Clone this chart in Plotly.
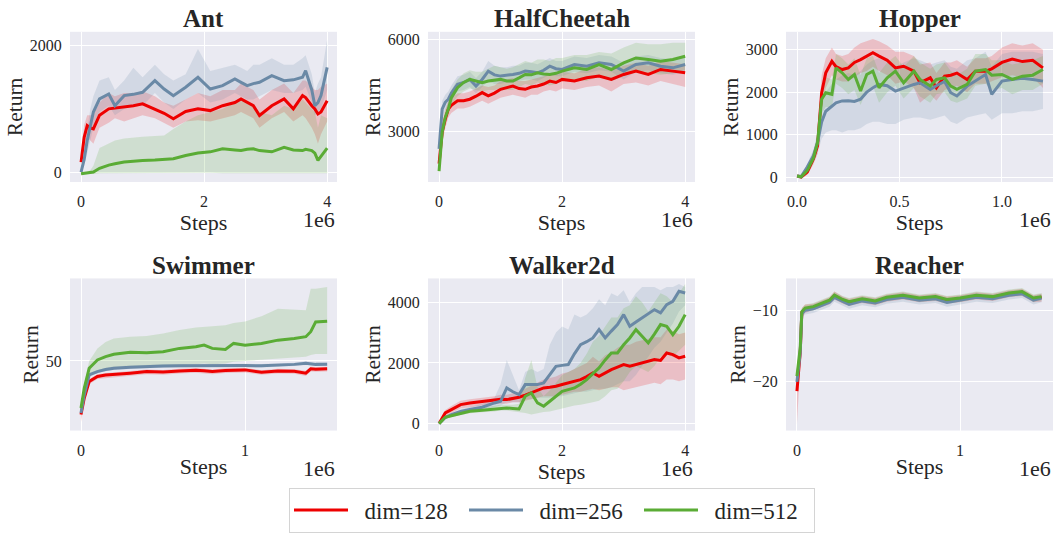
import plotly.graph_objects as go

# ---------------- data (x in units of 1e6 steps) ----------------
SERIES = ["dim=128", "dim=256", "dim=512"]
COLORS = ["#ee0000", "#6a89a6", "#5aac35"]
FILLS = ["rgba(238,0,0,0.18)", "rgba(106,137,166,0.18)", "rgba(90,172,53,0.18)"]

# Ant
ant_x = [0, 0.05, 0.1, 0.15, 0.2, 0.3, 0.45, 0.55, 0.7, 0.85, 1.0, 1.2, 1.35, 1.5, 1.7, 1.9, 2.1, 2.3, 2.5, 2.6, 2.7,
         2.8, 2.9, 3.1, 3.3, 3.45, 3.6, 3.65, 3.75, 3.8, 3.85, 3.9, 4.0]
ant_128 = [158, 550, 737, 700, 684, 900, 1000, 1010, 1030, 1050, 1080, 1000, 930, 842, 960, 1000, 973, 1050, 1100, 1158,
           1100, 1050, 895, 1050, 1158, 1000, 1210, 1180, 1050, 1000, 920, 950, 1130]
ant_256 = [0, 200, 500, 750, 950, 1158, 1236, 1050, 1210, 1230, 1263, 1447, 1315, 1210, 1342, 1500, 1315, 1368, 1473,
           1420, 1368, 1400, 1421, 1526, 1447, 1460, 1500, 1605, 1300, 1050, 1100, 1210, 1658]
ant_512 = [-26, -20, -15, -10, 0, 60, 110, 130, 158, 170, 184, 190, 195, 210, 263, 300, 320, 368, 350, 342, 360, 368,
           340, 320, 390, 350, 340, 360, 340, 300, 184, 250, 379]
ant_128_lo = [100, 300, 550, 500, 450, 700, 780, 850, 800, 850, 900, 850, 780, 700, 800, 820, 800, 850, 900, 950, 900,
              850, 700, 850, 950, 800, 900, 850, 700, 600, 450, 600, 800]
ant_128_hi = [220, 750, 900, 900, 900, 1100, 1250, 1200, 1250, 1250, 1280, 1200, 1100, 1050, 1150, 1250, 1200, 1300,
              1300, 1400, 1350, 1300, 1150, 1300, 1400, 1250, 1450, 1450, 1350, 1300, 1300, 1350, 1400]
ant_256_lo = [0, 100, 300, 500, 700, 950, 1050, 900, 1000, 1050, 1050, 1250, 1100, 1000, 1150, 1250, 1100, 1150, 1250,
              1200, 1150, 1150, 1200, 1300, 1250, 1250, 1300, 1350, 1100, 900, 950, 1000, 1300]
ant_256_hi = [30, 350, 700, 1000, 1200, 1450, 1500, 1300, 1450, 1650, 1500, 1700, 1550, 1450, 1550, 1950, 1600, 1650,
              1700, 1650, 1600, 1700, 1700, 1800, 1700, 1700, 1800, 1850, 1550, 1250, 1400, 1500, 2100]
ant_512_lo = [-30, -30, -30, -30, -30, -20, -10, -10, -10, -10, -10, -10, -10, -10, -10, -10, -10, -20, -20, -20, -30,
              -30, -30, -20, -20, -20, -20, -20, -20, -20, -20, -20, -20]
ant_512_hi = [-20, -10, 0, 30, 100, 380, 460, 500, 530, 550, 560, 570, 580, 680, 800, 900, 950, 1000, 1100, 1150, 1100,
              1050, 950, 900, 1050, 1000, 1150, 1100, 1000, 950, 700, 900, 850]

# HalfCheetah
hc_x = [0, 0.05, 0.1, 0.15, 0.2, 0.3, 0.4, 0.5, 0.6, 0.7, 0.8, 0.9, 1.0, 1.1, 1.2, 1.3, 1.4, 1.5, 1.6, 1.7, 1.8, 1.9,
        2.0, 2.2, 2.4, 2.6, 2.8, 3.0, 3.2, 3.4, 3.6, 3.8, 4.0]
hc_128 = [1938, 2967, 3400, 3726, 3850, 4000, 4000, 4051, 4150, 4268, 4160, 4250, 4376, 4420, 4484, 4400, 4376, 4450,
          4484, 4550, 4647, 4600, 4701, 4647, 4755, 4809, 4701, 4863, 4972, 4863, 5026, 4972, 4918]
hc_256 = [2426, 3726, 3950, 4051, 4250, 4538, 4600, 4701, 4484, 4700, 4972, 4850, 4809, 4830, 4863, 4900, 4972, 4950,
          4918, 5000, 5134, 5050, 5026, 5188, 5134, 5243, 5188, 4972, 5188, 5243, 5134, 5080, 5188]
hc_512 = [1689, 2967, 3450, 3726, 4100, 4430, 4600, 4701, 4650, 4592, 4650, 4680, 4701, 4650, 4647, 4750, 4863, 4850,
          4918, 4880, 4863, 4900, 4972, 5080, 5026, 5188, 5026, 5243, 5405, 5351, 5297, 5351, 5459]
hc_128_lo = [1700, 2600, 3100, 3450, 3600, 3750, 3750, 3800, 3900, 4000, 3900, 4000, 4100, 4150, 4200, 4150, 4100, 4200,
             4200, 4300, 4350, 4300, 4400, 4350, 4450, 4500, 4300, 4550, 4600, 4500, 4650, 4550, 4450]
hc_128_hi = [2200, 3300, 3700, 4000, 4100, 4250, 4250, 4300, 4400, 4500, 4450, 4500, 4650, 4700, 4750, 4650, 4650, 4700,
             4750, 4800, 4900, 4900, 4950, 4900, 5050, 5100, 5000, 5150, 5250, 5150, 5300, 5250, 5200]
hc_256_lo = [2200, 3400, 3700, 3850, 4000, 4300, 4350, 4450, 4250, 4450, 4650, 4550, 4550, 4600, 4600, 4650, 4700, 4700,
             4650, 4750, 4850, 4800, 4800, 4950, 4900, 5000, 4950, 4700, 4950, 5000, 4900, 4850, 4950]
hc_256_hi = [2650, 4000, 4200, 4300, 4500, 4800, 4850, 4950, 4750, 4950, 5300, 5150, 5100, 5100, 5150, 5150, 5250, 5250,
             5200, 5300, 5400, 5300, 5300, 5450, 5400, 5500, 5450, 5250, 5450, 5500, 5400, 5350, 5450]
hc_512_lo = [1500, 2700, 3200, 3500, 3850, 4150, 4300, 4400, 4350, 4300, 4350, 4350, 4400, 4350, 4350, 4450, 4550, 4500,
             4600, 4550, 4500, 4550, 4650, 4700, 4650, 4800, 4650, 4800, 4950, 4900, 4850, 4900, 5000]
hc_512_hi = [1900, 3250, 3700, 3950, 4350, 4700, 4900, 5000, 4950, 4950, 5050, 5150, 5100, 5050, 5100, 5200, 5300, 5250,
             5350, 5350, 5300, 5400, 5400, 5500, 5500, 5600, 5550, 5750, 5900, 5850, 5850, 5900, 5900]

# Hopper
hop_x = [0, 0.02, 0.05, 0.08, 0.1, 0.12, 0.14, 0.17, 0.19, 0.22, 0.25, 0.28, 0.31, 0.34, 0.37, 0.4, 0.44, 0.48, 0.52,
         0.57, 0.6, 0.65, 0.68, 0.72, 0.75, 0.78, 0.83, 0.87, 0.92, 0.95, 1.0, 1.05, 1.1, 1.15, 1.2]
hop_128 = [23, 0, 117, 429, 740, 1987, 2455, 2728, 2600, 2533, 2572, 2700, 2767, 2850, 2930, 2850, 2750, 2572, 2611,
           2494, 2221, 2338, 2104, 2377, 2400, 2450, 2299, 2494, 2494, 2550, 2700, 2780, 2720, 2750, 2572]
hop_256 = [23, 10, 234, 500, 818, 1300, 1550, 1676, 1750, 1793, 1800, 1780, 1832, 2000, 2104, 2182, 2150, 2026, 2100,
           2182, 2221, 2065, 2150, 2250, 1987, 1910, 2143, 2260, 2416, 1949, 2260, 2299, 2330, 2300, 2260]
hop_512 = [23, 5, 156, 450, 818, 1832, 1987, 1949, 2572, 2455, 2299, 2416, 2026, 2416, 2494, 2104, 2338, 2494, 2221,
           2494, 2299, 2143, 2300, 2338, 2143, 2065, 2182, 2494, 2533, 2400, 2416, 2299, 2377, 2400, 2533]
hop_128_lo = [0, -20, 50, 300, 550, 1600, 2100, 2400, 2300, 2250, 2250, 2350, 2450, 2500, 2600, 2500, 2400, 2200, 2250,
              2100, 1750, 1950, 1800, 2050, 2100, 2150, 2000, 2200, 2200, 2250, 2350, 2400, 2350, 2350, 2100]
hop_128_hi = [40, 20, 200, 550, 950, 2400, 2800, 3050, 2900, 2850, 2900, 3050, 3150, 3200, 3250, 3200, 3100, 2950, 2950,
              2850, 2650, 2700, 2450, 2700, 2700, 2750, 2600, 2800, 2800, 2850, 3050, 3150, 3100, 3150, 3000]
hop_256_lo = [0, -10, 150, 350, 550, 900, 1050, 1100, 1100, 1050, 1100, 1100, 1150, 1250, 1300, 1300, 1250, 1250, 1350,
              1400, 1400, 1350, 1400, 1450, 1300, 1250, 1400, 1450, 1500, 1350, 1500, 1500, 1550, 1550, 1600]
hop_256_hi = [40, 30, 320, 650, 1050, 1700, 2000, 2200, 2300, 2400, 2450, 2400, 2500, 2650, 2750, 2800, 2700, 2600,
              2700, 2800, 2750, 2650, 2700, 2750, 2600, 2550, 2750, 2800, 2950, 2600, 2900, 2950, 2950, 2950, 2900]
hop_512_lo = [0, -10, 80, 350, 650, 1500, 1650, 1650, 2200, 2100, 1950, 2050, 1700, 2050, 2150, 1750, 2000, 2150, 1850,
              2100, 1900, 1750, 1950, 2000, 1800, 1750, 1850, 2150, 2200, 2050, 2100, 1950, 2050, 2050, 2200]
hop_512_hi = [50, 20, 250, 600, 1000, 2150, 2350, 2300, 2900, 2800, 2650, 2800, 2400, 2800, 2850, 2450, 2700, 2850,
              2600, 2850, 2700, 2550, 2650, 2700, 2500, 2400, 2550, 2900, 2900, 2750, 2750, 2650, 2700, 2750, 2850]

# Swimmer
sw_x = [0, 0.02, 0.05, 0.1, 0.15, 0.2, 0.3, 0.4, 0.5, 0.6, 0.7, 0.75, 0.8, 0.88, 0.93, 1.0, 1.1, 1.2, 1.3, 1.37, 1.4,
        1.43, 1.5]
sw_128 = [18.8, 28.4, 38, 41, 41.8, 42.3, 42.9, 43.8, 43.5, 44.2, 44.6, 44.3, 43.8, 44.5, 44.6, 44.8, 43.4, 44.2, 44,
          42.9, 45.4, 45.2, 45.4]
sw_256 = [19.7, 30.3, 41.9, 43.8, 45, 45.8, 46.3, 46.8, 47.1, 47.2, 47.3, 47.2, 47.1, 47.2, 47.2, 47.3, 47.2, 47.5, 48,
          48.7, 48.2, 48, 48.1]
sw_512 = [22.6, 34.2, 45.8, 50.6, 52.5, 53.9, 55, 54.8, 55.4, 57.3, 58.3, 59.2, 57.3, 56.7, 60.2, 59.2, 60.2, 62.1, 63.1,
          64.1, 67, 72.7, 73.1]
sw_128_lo = [14.5, 26, 36.5, 39.5, 40.3, 40.8, 41.4, 42.3, 42, 42.7, 43.1, 42.8, 42.3, 43, 43.1, 43.3, 41.9, 42.7, 42.5,
             41.2, 43.9, 43.7, 43.9]
sw_128_hi = [21, 30.5, 39.4, 42.2, 43, 43.5, 44.1, 45, 44.7, 45.4, 45.8, 45.5, 45, 45.7, 45.8, 46, 44.6, 45.4, 45.2,
             44.3, 46.6, 46.4, 46.6]
sw_256_lo = [18.5, 29, 40.8, 42.8, 44, 44.8, 45.3, 45.8, 46.1, 46.2, 46.3, 46.2, 46.1, 46.2, 46.2, 46.3, 46.2, 46.5, 47,
             47.6, 47.2, 47, 47.1]
sw_256_hi = [21, 31.5, 43, 44.8, 46, 46.8, 47.3, 47.8, 48.1, 48.2, 48.3, 48.2, 48.1, 48.2, 48.2, 48.3, 48.2, 48.5, 49,
             49.8, 49.2, 49, 49.1]
sw_512_lo = [20, 31, 42, 43.8, 45, 45.5, 46, 46.2, 46.7, 47.5, 48, 48.5, 48, 48.5, 49.5, 50, 50.5, 51, 52, 52.5, 53.5,
             54, 54]
sw_512_hi = [25, 37, 50, 57.3, 61, 63.1, 64, 64.5, 66, 68, 69.5, 70, 70.2, 70.8, 72, 73, 76, 80.4, 79.8, 79.5, 92, 92,
             93]

# Walker2d
wk_x = [0, 0.1, 0.2, 0.35, 0.5, 0.7, 0.9, 1.0, 1.1, 1.2, 1.3, 1.4, 1.5, 1.6, 1.7, 1.8, 1.9, 2.0, 2.1, 2.2, 2.3, 2.4,
        2.5, 2.6, 2.7, 2.8, 2.9, 3.0, 3.1, 3.2, 3.3, 3.4, 3.5, 3.6, 3.7, 3.8, 3.9, 4.0]
wk_128 = [0, 352, 462, 626, 681, 736, 791, 800, 791, 830, 868, 940, 1011, 1100, 1176, 1200, 1231, 1290, 1341, 1400,
          1451, 1550, 1670, 1560, 1680, 1780, 1860, 1945, 1890, 1950, 2000, 2050, 2110, 2080, 2330, 2275, 2165, 2220]
wk_256 = [0, 200, 297, 400, 462, 538, 681, 736, 1176, 1050, 956, 1286, 1286, 1286, 1341, 1600, 1890, 1920, 1945, 2300,
          2604, 2700, 2824, 3099, 2824, 3050, 3264, 3593, 3209, 3350, 3484, 3600, 3758, 3650, 3923, 4033, 4363, 4308]
wk_512 = [0, 209, 260, 330, 407, 440, 480, 516, 516, 500, 485, 901, 1011, 681, 571, 736, 900, 1066, 1120, 1176, 1300,
          1451, 1650, 1835, 2100, 2330, 2330, 2600, 2824, 3099, 2879, 2659, 2950, 3264, 3209, 2934, 3209, 3593]
wk_128_lo = [0, 250, 350, 500, 550, 600, 650, 650, 650, 700, 700, 750, 800, 850, 900, 900, 900, 950, 1000, 1050, 1050,
             1100, 1150, 1100, 1150, 1200, 1200, 1100, 1150, 1200, 1250, 1300, 1350, 1300, 1450, 1450, 1400, 1450]
wk_128_hi = [0, 450, 580, 750, 800, 850, 900, 950, 950, 1000, 1050, 1150, 1250, 1350, 1450, 1500, 1550, 1650, 1700,
             1800, 1900, 2000, 2200, 2050, 2250, 2350, 2500, 2600, 2600, 2700, 2750, 2800, 2850, 2850, 3100, 3050,
             2950, 3000]
wk_256_lo = [0, 150, 250, 330, 380, 450, 550, 600, 700, 700, 700, 800, 800, 850, 850, 850, 900, 900, 950, 1000, 1050,
             1050, 1100, 1150, 1150, 1200, 1300, 1400, 1400, 1600, 1900, 2200, 2500, 2700, 3000, 3300, 3700, 3900]
wk_256_hi = [0, 250, 350, 470, 550, 650, 850, 1300, 2100, 1600, 1100, 1700, 1800, 1700, 1800, 2600, 3000, 3200, 3100,
             3600, 3500, 3600, 3800, 4100, 3900, 4300, 4200, 4400, 4000, 4300, 4500, 4500, 4500, 4400, 4500, 4500,
             4600, 4500]
wk_512_lo = [0, 170, 220, 280, 340, 370, 400, 430, 430, 400, 380, 350, 300, 350, 380, 400, 450, 500, 550, 600, 620, 650,
             700, 750, 900, 1100, 1150, 1400, 1700, 1900, 1800, 1700, 1900, 2200, 2300, 2200, 2400, 2600]
wk_512_hi = [0, 250, 320, 400, 480, 520, 580, 620, 620, 620, 650, 1500, 2100, 1200, 900, 1100, 1350, 1600, 1700, 1800,
             2000, 2300, 2700, 2900, 3200, 3500, 3500, 3800, 3900, 4200, 4000, 3700, 4000, 4300, 4200, 4000, 4300, 4600]

# Reacher
re_x = [0, 0.01, 0.02, 0.03, 0.05, 0.1, 0.15, 0.2, 0.23, 0.28, 0.32, 0.4, 0.48, 0.55, 0.65, 0.75, 0.85, 0.92, 1.0,
        1.1, 1.2, 1.3, 1.38, 1.45, 1.5]
re_128 = [-21.3, -19, -16, -10.3, -9.8, -9.6, -9.1, -8.7, -8.0, -8.6, -8.9, -8.5, -8.8, -8.3, -8.0, -8.4, -8.2, -8.6,
          -8.4, -8.0, -8.2, -7.7, -7.5, -8.4, -8.2]
re_256 = [-20, -18, -16, -10.5, -10, -9.8, -9.3, -8.9, -8.2, -8.8, -9.2, -8.7, -9.0, -8.5, -8.2, -8.6, -8.4, -8.9, -8.6,
          -8.2, -8.4, -7.9, -7.7, -8.6, -8.3]
re_512 = [-19.2, -17, -15.3, -10.2, -9.7, -9.5, -9.0, -8.6, -7.9, -8.5, -8.8, -8.4, -8.7, -8.2, -7.9, -8.3, -8.1, -8.5,
          -8.3, -7.9, -8.1, -7.6, -7.4, -8.3, -8.1]
re_128_lo = [-26, -22, -18, -11, -10.4, -10.1, -9.6, -9.2, -8.5, -9.1, -9.4, -9.0, -9.3, -8.8, -8.5, -8.9, -8.7, -9.1,
             -8.9, -8.5, -8.7, -8.2, -8.0, -8.9, -8.8]
re_128_hi = [-18, -16, -14, -9.7, -9.2, -9.1, -8.6, -8.2, -7.4, -8.1, -8.4, -8.0, -8.3, -7.8, -7.5, -7.9, -7.7, -8.1,
             -7.9, -7.5, -7.7, -7.2, -7.0, -7.9, -7.7]
re_256_lo = [-21, -19.5, -17, -11, -10.6, -10.4, -9.9, -9.5, -8.8, -9.4, -9.8, -9.3, -9.6, -9.1, -8.8, -9.2, -9.0, -9.5,
             -9.2, -8.8, -9.0, -8.5, -8.3, -9.2, -8.9]
re_256_hi = [-19, -16.5, -15, -10, -9.4, -9.2, -8.7, -8.3, -7.6, -8.2, -8.6, -8.1, -8.4, -7.9, -7.6, -8.0, -7.8, -8.3,
             -8.0, -7.6, -7.8, -7.3, -7.1, -8.0, -7.7]
re_512_lo = [-20, -18, -16, -10.7, -10.2, -10.0, -9.5, -9.1, -8.4, -9.0, -9.3, -8.9, -9.2, -8.7, -8.4, -8.8, -8.6, -9.0,
             -8.8, -8.4, -8.6, -8.1, -7.9, -8.8, -8.6]
re_512_hi = [-18.4, -16, -14.6, -9.7, -9.2, -9.0, -8.5, -8.1, -7.4, -8.0, -8.3, -7.9, -8.2, -7.7, -7.4, -7.8, -7.6,
             -8.0, -7.8, -7.4, -7.6, -7.1, -6.9, -7.8, -7.6]

ENVS = [
    ("Ant", ant_x, [ant_128, ant_256, ant_512], [ant_128_lo, ant_256_lo, ant_512_lo], [ant_128_hi, ant_256_hi, ant_512_hi]),
    ("HalfCheetah", hc_x, [hc_128, hc_256, hc_512], [hc_128_lo, hc_256_lo, hc_512_lo], [hc_128_hi, hc_256_hi, hc_512_hi]),
    ("Hopper", hop_x, [hop_128, hop_256, hop_512], [hop_128_lo, hop_256_lo, hop_512_lo], [hop_128_hi, hop_256_hi, hop_512_hi]),
    ("Swimmer", sw_x, [sw_128, sw_256, sw_512], [sw_128_lo, sw_256_lo, sw_512_lo], [sw_128_hi, sw_256_hi, sw_512_hi]),
    ("Walker2d", wk_x, [wk_128, wk_256, wk_512], [wk_128_lo, wk_256_lo, wk_512_lo], [wk_128_hi, wk_256_hi, wk_512_hi]),
    ("Reacher", re_x, [re_128, re_256, re_512], [re_128_lo, re_256_lo, re_512_lo], [re_128_hi, re_256_hi, re_512_hi]),
]

# axis settings
X_RANGES = [[-0.18, 4.16], [-0.18, 4.16], [-0.054, 1.249], [-0.067, 1.56], [-0.18, 4.16], [-0.067, 1.57]]
X_DTICK = [2, 2, 0.5, 1, 2, 1]
X_FMT = ["d", "d", ".1f", "d", "d", "d"]
Y_RANGES = [[-157, 2220], [1337, 6261], [-117, 3422], [9.5, 98], [-230, 4787], [-26.8, -5.56]]
Y_DTICK = [2000, 3000, 1000, 50, 2000, 10]

# ---------------- layout geometry ----------------
W, H = 1058, 533
COLS = [(70, 337), (428, 695), (786, 1053)]
ROWS = [(32, 183), (280, 433)]
FONT = "Liberation Serif"
TXT = "#262626"

fig = go.Figure()
layout = dict(
    width=W, height=H, margin=dict(l=0, r=0, t=0, b=0),
    paper_bgcolor="white", plot_bgcolor="#EAEAF2",
    font=dict(family=FONT, color=TXT, size=16),
    showlegend=True,
    legend=dict(orientation="h", x=552 / W, xanchor="center", y=1 - 513 / H, yanchor="middle",
                bordercolor="#d4d4d4", borderwidth=1, bgcolor="white",
                font=dict(size=23, family=FONT, color=TXT),
                itemwidth=54, entrywidth=106, entrywidthmode="pixels", tracegroupgap=0),
)
annotations = []

for i, (name, xs, means, los, his) in enumerate(ENVS):
    r, c = divmod(i, 3)
    x0, x1 = COLS[c]
    y0, y1 = ROWS[r]
    k = "" if i == 0 else str(i + 1)
    xa, ya = "x" + k, "y" + k
    layout["xaxis" + k] = dict(
        domain=[x0 / W, x1 / W], anchor=ya, range=X_RANGES[i], dtick=X_DTICK[i], tick0=0,
        tickformat=X_FMT[i], showgrid=True, gridcolor="white", gridwidth=1.2, zeroline=False,
        showline=False, ticks="outside", ticklen=5, tickcolor="rgba(0,0,0,0)",
        tickfont=dict(size=16, family=FONT, color=TXT),
        title=dict(text="Steps", font=dict(size=22, family=FONT, color=TXT), standoff=0),
    )
    layout["yaxis" + k] = dict(
        domain=[1 - y1 / H, 1 - y0 / H], anchor=xa, range=Y_RANGES[i], dtick=Y_DTICK[i], tick0=0,
        showgrid=True, gridcolor="white", gridwidth=1.2, zeroline=False, showline=False,
        ticks="outside", ticklen=4, tickcolor="rgba(0,0,0,0)",
        tickfont=dict(size=16, family=FONT, color=TXT),
        title=dict(text="Return", font=dict(size=21.5, family=FONT, color=TXT), standoff=1),
    )
    annotations.append(dict(text="<b>%s</b>" % name, x=(x0 + x1) / 2 / W, y=1 - (y0 - 13) / H,
                            xref="paper", yref="paper", xanchor="center", yanchor="middle",
                            showarrow=False, font=dict(size=25, family=FONT, color=TXT)))
    annotations.append(dict(text="1e6", x=x1 / W, y=1 - (y1 + 38) / H, xref="paper", yref="paper",
                            xanchor="right", yanchor="middle", showarrow=False,
                            font=dict(size=22, family=FONT, color=TXT)))
    for s in range(3):
        fig.add_trace(go.Scatter(
            x=list(xs) + list(xs)[::-1], y=list(his[s]) + list(los[s])[::-1],
            xaxis=xa, yaxis=ya, fill="toself", fillcolor=FILLS[s], line=dict(width=0),
            mode="lines", hoverinfo="skip", showlegend=False))
    for s in range(3):
        fig.add_trace(go.Scatter(
            x=xs, y=means[s], xaxis=xa, yaxis=ya, mode="lines",
            line=dict(color=COLORS[s], width=3), name="\u00a0\u00a0" + SERIES[s],
            legendgroup=SERIES[s], showlegend=(i == 0)))

layout["annotations"] = annotations
fig.update_layout(**layout)
fig.write_html("out.html", config={"displayModeBar": False},
               post_script="document.body.style.margin='0';document.body.style.overflow='hidden';")
